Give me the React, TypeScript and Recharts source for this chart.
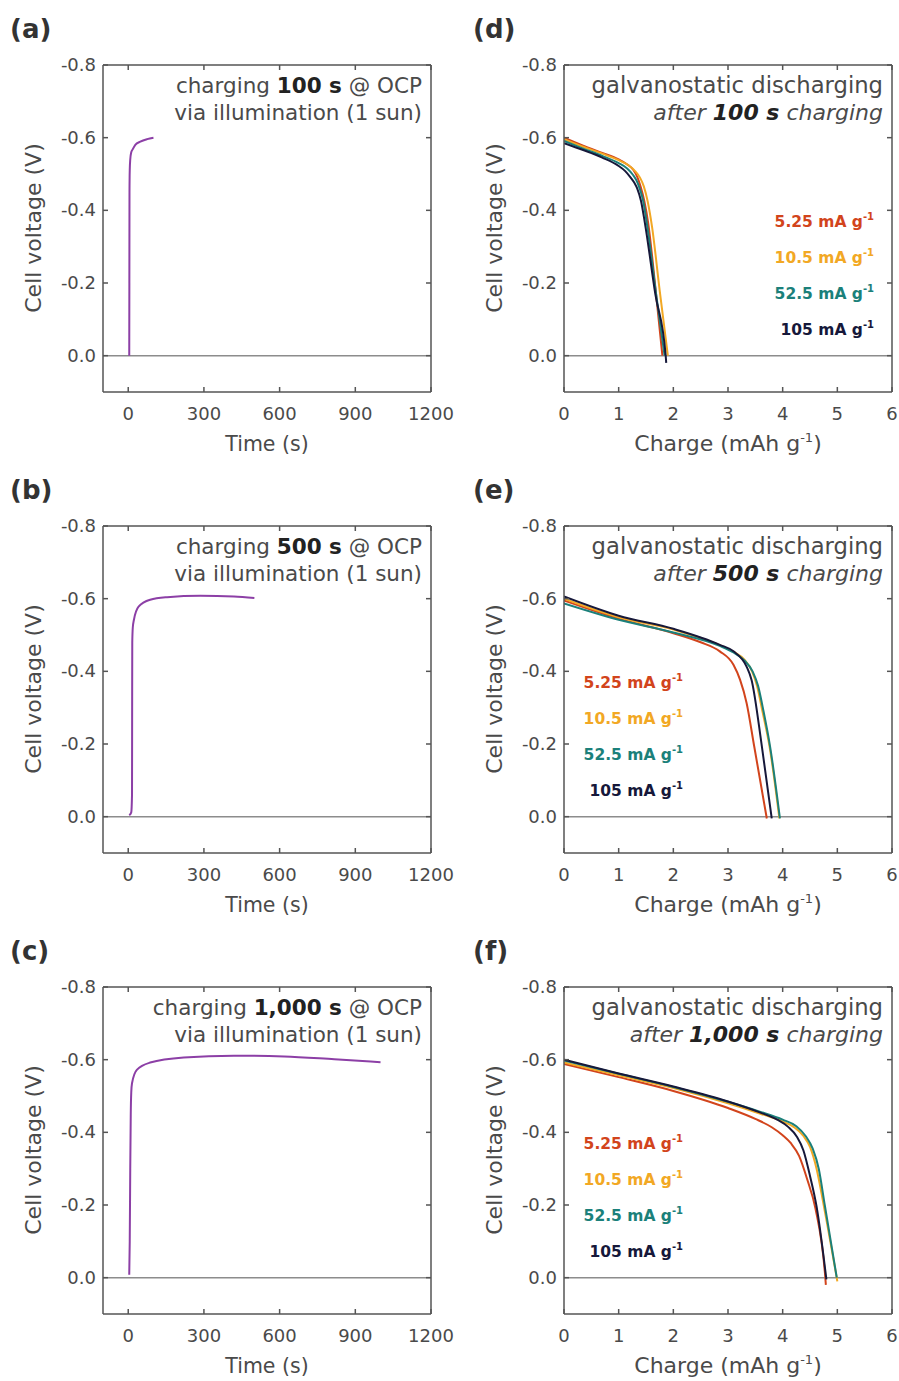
import React from "react";
import { LineChart, Line, XAxis, YAxis, ReferenceLine } from "recharts";

const FONT = "'DejaVu Sans', sans-serif";
const INK = "#4a4a4a";
const FRAME = "#555555";
const ZERO = "#8c8c8c";
const PURPLE = "#8c3fa6";
const TICK_LEN = 5;

// tick labels
const voltTicks = [-0.8, -0.6, -0.4, -0.2, 0];
const timeTicks = [0, 300, 600, 900, 1200];
const chargeTicks = [0, 1, 2, 3, 4, 5, 6];

// charging durations and discharge rates
const durations = ["100 s", "500 s", "1,000 s"];
const rates = ["5.25", "10.5", "52.5", "105"];
const rateColors = ["#d2441c", "#f2a824", "#1b807a", "#16183a"];

// open-circuit charging under 1 sun, [time s, voltage V]
const charge100: number[][] = [
  [4, 0], [4.5, -0.2], [5, -0.45], [6, -0.51], [8, -0.54], [12, -0.56],
  [17, -0.567], [28, -0.58], [48, -0.589], [75, -0.596], [100, -0.6],
];
const charge500: number[][] = [
  [4, -0.004], [12, -0.012], [15, -0.06], [15.5, -0.3], [16, -0.48], [18, -0.52],
  [22, -0.54], [41, -0.578], [87, -0.597], [154, -0.604], [286, -0.608],
  [419, -0.606], [500, -0.602],
];
const charge1000: number[][] = [
  [4, -0.008], [6, -0.1], [8, -0.3], [10, -0.45], [12, -0.51], [15, -0.535],
  [34, -0.572], [87, -0.592], [220, -0.606], [419, -0.611], [618, -0.609],
  [817, -0.601], [1000, -0.593],
];

// galvanostatic discharge after 100 s, [charge mAh/g, voltage V]
const dis100_525: number[][] = [
  [0, -0.6], [0.35, -0.578], [0.7, -0.558], [1.0, -0.54], [1.15, -0.527], [1.27, -0.511],
  [1.34, -0.492], [1.4, -0.466], [1.47, -0.425], [1.54, -0.365], [1.67, -0.19], [1.8, 0],
];
const dis100_105a: number[][] = [
  [0, -0.596], [0.35, -0.575], [0.7, -0.556], [1.0, -0.538], [1.18, -0.524], [1.3, -0.508],
  [1.39, -0.49], [1.46, -0.466], [1.53, -0.425], [1.61, -0.355], [1.75, -0.18], [1.9, 0],
];
const dis100_525b: number[][] = [
  [0, -0.591], [0.35, -0.57], [0.7, -0.55], [1.0, -0.53], [1.15, -0.516], [1.26, -0.498],
  [1.32, -0.484], [1.38, -0.462], [1.45, -0.425], [1.52, -0.36], [1.68, -0.175], [1.84, 0],
];
const dis100_105: number[][] = [
  [0, -0.585], [0.35, -0.566], [0.7, -0.545], [1.0, -0.522], [1.12, -0.508], [1.22, -0.49],
  [1.29, -0.475], [1.34, -0.46], [1.41, -0.425], [1.48, -0.365], [1.67, -0.17], [1.86, 0],
  [1.87, 0.02],
];

// discharge after 500 s
const dis500_525: number[][] = [
  [0, -0.595], [1, -0.545], [2, -0.505], [2.5, -0.48], [2.85, -0.455], [3.1, -0.418],
  [3.22, -0.377], [3.34, -0.313], [3.48, -0.193], [3.71, 0.005],
];
const dis500_105a: number[][] = [
  [0, -0.6], [1, -0.549], [2, -0.515], [2.85, -0.472], [3.1, -0.454], [3.3, -0.432],
  [3.44, -0.4], [3.53, -0.36], [3.63, -0.29], [3.76, -0.193], [3.94, 0.005],
];
const dis500_525b: number[][] = [
  [0, -0.587], [1, -0.542], [2, -0.507], [2.85, -0.47], [3.1, -0.452], [3.3, -0.43],
  [3.45, -0.4], [3.55, -0.36], [3.65, -0.29], [3.77, -0.193], [3.95, 0.005],
];
const dis500_105: number[][] = [
  [0, -0.606], [1, -0.553], [2, -0.517], [2.85, -0.473], [3.1, -0.455], [3.34, -0.413],
  [3.43, -0.377], [3.62, -0.193], [3.8, 0.005],
];

// discharge after 1,000 s
const dis1000_525: number[][] = [
  [0, -0.588], [1, -0.552], [2, -0.514], [3, -0.467], [3.5, -0.437], [3.8, -0.414],
  [4.0, -0.392], [4.15, -0.37], [4.3, -0.335], [4.45, -0.27], [4.6, -0.19], [4.78, 0],
  [4.79, 0.02],
];
const dis1000_105a: number[][] = [
  [0, -0.592], [1, -0.557], [2, -0.522], [3, -0.48], [3.58, -0.452], [4.0, -0.43],
  [4.2, -0.415], [4.38, -0.39], [4.5, -0.36], [4.62, -0.3], [4.75, -0.2], [5.0, 0.01],
];
const dis1000_525b: number[][] = [
  [0, -0.598], [1, -0.561], [2, -0.525], [3, -0.484], [3.58, -0.457], [4.0, -0.435],
  [4.25, -0.417], [4.42, -0.39], [4.55, -0.355], [4.66, -0.3], [4.77, -0.2], [4.99, 0],
];
const dis1000_105: number[][] = [
  [0, -0.6], [1, -0.562], [2, -0.526], [3, -0.485], [3.58, -0.455], [3.9, -0.435],
  [4.1, -0.415], [4.26, -0.388], [4.38, -0.35], [4.5, -0.28], [4.62, -0.196], [4.8, 0.005],
];

const chargeCurves = [charge100, charge500, charge1000];
const dischargeCurves = [
  [dis100_525, dis100_105a, dis100_525b, dis100_105],
  [dis500_525, dis500_105a, dis500_525b, dis500_105],
  [dis1000_525, dis1000_105a, dis1000_525b, dis1000_105],
];

const toPoints = (arr: number[][]) => arr.map(([x, v]) => ({ x, v }));

const ROW_H = 461;

// tick renderers: each draws its own inward tick mark next to the axis line
const BOTTOM_GAP = 14;
const LEFT_GAP = 7;

function BottomTick(p: any) {
  const axisY = p.y - BOTTOM_GAP;
  return (
    <g>
      <line x1={p.x} x2={p.x} y1={axisY} y2={axisY - TICK_LEN} stroke={FRAME} strokeWidth={1.5} />
      <text x={p.x} y={p.y + 14} textAnchor="middle" fontSize={18} fill={INK} fontFamily={FONT}>
        {p.payload.value}
      </text>
    </g>
  );
}

function LeftTick(p: any) {
  const axisX = p.x + LEFT_GAP;
  return (
    <g>
      <line x1={axisX} x2={axisX + TICK_LEN} y1={p.y} y2={p.y} stroke={FRAME} strokeWidth={1.5} />
      <text x={p.x} y={p.y + 6} textAnchor="end" fontSize={18} fill={INK} fontFamily={FONT}>
        {Number(p.payload.value).toFixed(1)}
      </text>
    </g>
  );
}

function TopTick(p: any) {
  return <line x1={p.x} x2={p.x} y1={p.y} y2={p.y + TICK_LEN} stroke={FRAME} strokeWidth={1.5} />;
}

function RightTick(p: any) {
  return <line x1={p.x} x2={p.x - TICK_LEN} y1={p.y} y2={p.y} stroke={FRAME} strokeWidth={1.5} />;
}

// box frame: labelled bottom/left axes plus bare top/right axes
function axes(xDomain: number[], xTicks: number[]) {
  const shared = { interval: 0 as const, allowDataOverflow: true, stroke: FRAME, strokeWidth: 1.5, tickLine: false, tickSize: 0 };
  return [
    <XAxis key="xb" xAxisId="b" type="number" dataKey="x" domain={xDomain} ticks={xTicks}
      height={1} tickMargin={BOTTOM_GAP} tick={BottomTick} {...shared} />,
    <XAxis key="xt" xAxisId="t" orientation="top" type="number" dataKey="x" domain={xDomain} ticks={xTicks}
      height={1} tickMargin={0} tick={TopTick} {...shared} />,
    <YAxis key="yl" yAxisId="l" type="number" domain={[-0.8, 0.1]} reversed ticks={voltTicks}
      width={1} tickMargin={LEFT_GAP} tick={LeftTick} {...shared} />,
    <YAxis key="yr" yAxisId="r" orientation="right" type="number" domain={[-0.8, 0.1]} reversed ticks={voltTicks}
      width={1} tickMargin={0} tick={RightTick} {...shared} />,
  ];
}

function ChargePanel({ curve }: { curve: number[][] }) {
  return (
    <LineChart width={460} height={ROW_H} margin={{ top: 64, right: 28, bottom: 68, left: 102 }}>
      {axes([-100, 1200], timeTicks)}
      <ReferenceLine xAxisId="b" yAxisId="l" y={0} stroke={ZERO} strokeWidth={1.5} />
      <Line
        xAxisId="b"
        yAxisId="l"
        data={toPoints(curve)}
        dataKey="v"
        type="monotone"
        stroke={PURPLE}
        strokeWidth={2}
        dot={false}
        isAnimationActive={false}
      />
    </LineChart>
  );
}

function DischargePanel({ curves }: { curves: number[][][] }) {
  return (
    <LineChart width={439} height={ROW_H} margin={{ top: 64, right: 6, bottom: 68, left: 103 }}>
      {axes([0, 6], chargeTicks)}
      <ReferenceLine xAxisId="b" yAxisId="l" y={0} stroke={ZERO} strokeWidth={1.5} />
      {curves.map((c, i) => (
        <Line
          key={rates[i]}
          xAxisId="b"
          yAxisId="l"
          data={toPoints(c)}
          dataKey="v"
          type="monotone"
          stroke={rateColors[i]}
          strokeWidth={2}
          dot={false}
          isAnimationActive={false}
        />
      ))}
    </LineChart>
  );
}

const letters = [["(a)", "(d)"], ["(b)", "(e)"], ["(c)", "(f)"]];
const legendRight = [874, 683, 683];

function Labels() {
  return (
    <svg
      width={899}
      height={1381}
      style={{ position: "absolute", left: 0, top: 0, pointerEvents: "none" }}
      fontFamily={FONT}
    >
      {durations.map((d, r) => {
        const o = r * ROW_H;
        return (
          <g key={d}>
            <text x={10} y={38 + o} fontSize={26} fontWeight="bold" fill="#333">{letters[r][0]}</text>
            <text x={473} y={38 + o} fontSize={26} fontWeight="bold" fill="#333">{letters[r][1]}</text>

            <text x={41} y={228 + o} fontSize={22} fill={INK} textAnchor="middle" transform={`rotate(-90 41 ${228 + o})`}>
              Cell voltage (V)
            </text>
            <text x={502} y={228 + o} fontSize={22} fill={INK} textAnchor="middle" transform={`rotate(-90 502 ${228 + o})`}>
              Cell voltage (V)
            </text>
            <text x={267} y={451 + o} fontSize={20.5} fill={INK} textAnchor="middle">Time (s)</text>
            <text x={728} y={451 + o} fontSize={22} fill={INK} textAnchor="middle">
              Charge (mAh g<tspan dy={-9} fontSize={13}>-1</tspan><tspan dy={9}>)</tspan>
            </text>

            <text x={422} y={93 + o} fontSize={21.5} fill={INK} textAnchor="end">
              charging <tspan fontWeight="bold" fill="#222">{d}</tspan> @ OCP
            </text>
            <text x={422} y={120 + o} fontSize={21.5} fill={INK} textAnchor="end">
              via illumination (1 sun)
            </text>
            <text x={883} y={93 + o} fontSize={22.7} fill={INK} textAnchor="end">
              galvanostatic discharging
            </text>
            <text x={883} y={120 + o} fontSize={22} fill={INK} textAnchor="end" fontStyle="italic">
              after <tspan fontWeight="bold" fill="#222">{d}</tspan> charging
            </text>

            {rates.map((rate, i) => (
              <text
                key={rate}
                x={legendRight[r]}
                y={227 + i * 36 + o}
                fontSize={15.5}
                fontWeight="bold"
                fill={rateColors[i]}
                textAnchor="end"
              >
                {rate} mA g<tspan dy={-7} fontSize={10}>-1</tspan>
              </text>
            ))}
          </g>
        );
      })}
    </svg>
  );
}

export default function App() {
  return (
    <div style={{ position: "absolute", left: 0, top: 0, width: 899, height: 1381, overflow: "hidden", background: "#fff" }}>
      {chargeCurves.map((c, r) => (
        <div key={r} style={{ position: "absolute", left: 0, top: r * ROW_H }}>
          <ChargePanel curve={c} />
        </div>
      ))}
      {dischargeCurves.map((cs, r) => (
        <div key={r} style={{ position: "absolute", left: 460, top: r * ROW_H }}>
          <DischargePanel curves={cs} />
        </div>
      ))}
      <Labels />
    </div>
  );
}
